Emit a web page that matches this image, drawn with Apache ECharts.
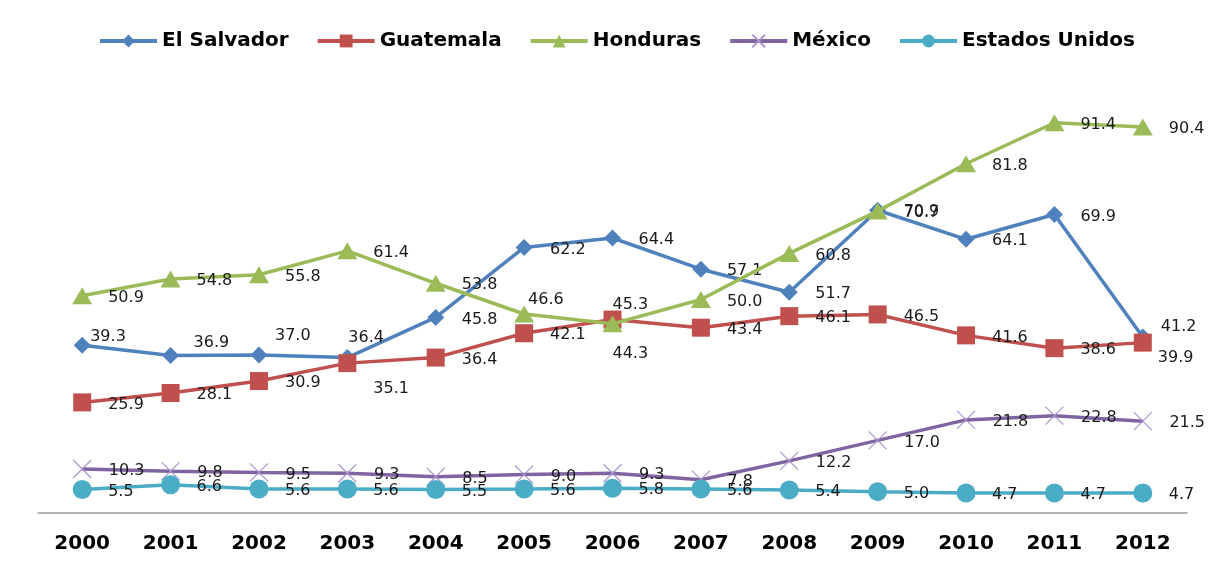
<!DOCTYPE html>
<html>
<head>
<meta charset="utf-8">
<script src="https://cdn.jsdelivr.net/npm/echarts@6/dist/echarts.min.js"></script>
<style>html,body{margin:0;padding:0;background:#fff;}#chart{width:1212px;height:565px;}</style>
</head>
<body>
<div id="chart"></div>
<script>
const years = ['2000','2001','2002','2003','2004','2005','2006','2007','2008','2009','2010','2011','2012'];
const elSalvador = [39.3, 36.9, 37.0, 36.4, 45.8, 62.2, 64.4, 57.1, 51.7, 70.9, 64.1, 69.9, 41.2];
const guatemala = [25.9, 28.1, 30.9, 35.1, 36.4, 42.1, 45.3, 43.4, 46.1, 46.5, 41.6, 38.6, 39.9];
const honduras = [50.9, 54.8, 55.8, 61.4, 53.8, 46.6, 44.3, 50.0, 60.8, 70.7, 81.8, 91.4, 90.4];
const mexico = [10.3, 9.8, 9.5, 9.3, 8.5, 9.0, 9.3, 7.8, 12.2, 17.0, 21.8, 22.8, 21.5];
const estadosUnidos = [5.5, 6.6, 5.6, 5.6, 5.5, 5.6, 5.8, 5.6, 5.4, 5.0, 4.7, 4.7, 4.7];

// label nudges (style only), by series index -> {pointIndex: [dx, dy]}
const labelNudge = [
  {0:[-18,-8], 1:[-3,-13], 2:[-10,-19], 3:[-25,-20], 12:[-8,-10]},
  {3:[0,26], 6:[-26,-15], 12:[-11,15]},
  {5:[-22,-14], 6:[-26,30]},
  {},
  {}
];

const defs = [
  {name:'El Salvador', data: elSalvador, color:'#4F81BD', symbol:'diamond', size:17},
  {name:'Guatemala', data: guatemala, color:'#C0504D', symbol:'rect', size:18},
  {name:'Honduras', data: honduras, color:'#9BBB59', symbol:'triangle', size:[20,17]},
  {name:'México', data: mexico, color:'#8064A2', symbol:'path://M0,0L10,10M10,0L0,10', size:18, cross:true},
  {name:'Estados Unidos', data: estadosUnidos, color:'#4BACC6', symbol:'circle', size:19}
];

const series = defs.map((d, si) => {
  const half = Array.isArray(d.size) ? d.size[0]/2 : d.size/2;
  return {
    name: d.name,
    type: 'line',
    symbol: d.symbol,
    symbolSize: d.size,
    showAllSymbol: true,
    lineStyle: {color: d.color, width: 3.5},
    itemStyle: d.cross ? {color: 'rgba(0,0,0,0)', borderColor: '#A996CC', borderWidth: 1.2} : {color: d.color},
    label: {
      show: true,
      position: 'right',
      distance: 26 - half,
      fontFamily: 'DejaVu Sans',
      fontSize: 16,
      color: '#1a1a1a',
      formatter: p => p.value.toFixed(1),
      offset: [0, 2]
    },
    data: d.data.map((v, i) => {
      const n = labelNudge[si][i];
      return n ? {value: v, label: {offset: [n[0], n[1]]}} : v;
    }),
    z: 2 + si
  };
});

const chart = echarts.init(document.getElementById('chart'), null, {renderer: 'canvas'});
chart.setOption({
  animation: false,
  backgroundColor: '#fff',
  legend: {
    left: 93,
    top: 26,
    itemGap: 27,
    itemWidth: 57,
    itemHeight: 16,
    lineStyle: {width: 4},
    textStyle: {fontFamily: 'DejaVu Sans', fontWeight: 'bold', fontSize: 20, color: '#000', padding: [0,0,0,0]},
    data: defs.map(d => d.name)
  },
  grid: {left: 38, right: 25, top: 86, bottom: 52, containLabel: false},
  xAxis: {
    type: 'category',
    data: years,
    boundaryGap: true,
    axisLine: {lineStyle: {color: '#9a9a9a', width: 1.5}},
    axisTick: {show: false},
    axisLabel: {fontFamily: 'DejaVu Sans', fontWeight: 'bold', fontSize: 20, color: '#000', margin: 21}
  },
  yAxis: {
    type: 'value',
    min: 0,
    max: 100,
    show: false,
    splitLine: {show: false}
  },
  series: series
});
</script>
</body>
</html>
